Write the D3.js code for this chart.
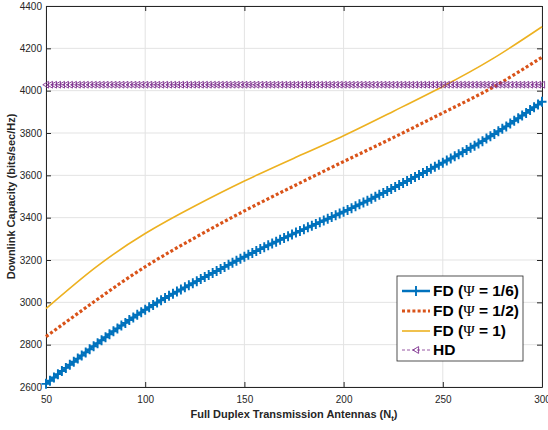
<!DOCTYPE html>
<html>
<head>
<meta charset="utf-8">
<script src="https://cdn.jsdelivr.net/npm/d3@7"></script>
<style>
  html, body { margin: 0; padding: 0; background: #fff; }
  svg { display: block; }
  text { font-family: "Liberation Sans", Arial, Helvetica, sans-serif; }
</style>
</head>
<body>
<svg id="chart" width="548" height="430"></svg>
<script>
// ---- data ----
const antennas = [50, 75, 100, 125, 150, 175, 200, 225, 250, 275, 300];
const fdPsi16 = [2615, 2800, 2965, 3095, 3215, 3325, 3428, 3540, 3660, 3790, 3948];
const fdPsi12 = [2838, 3008, 3168, 3305, 3432, 3550, 3665, 3778, 3895, 4015, 4158];
const fdPsi1  = [2970, 3165, 3325, 3455, 3573, 3681, 3787, 3902, 4020, 4150, 4302];
const hdCap   = [4028, 4028, 4028, 4028, 4028, 4028, 4028, 4028, 4028, 4028, 4028];
const markerStep = 2; // markers every 2 antennas
const xTickValues = [50, 100, 150, 200, 250, 300];
const yTickValues = [2600, 2800, 3000, 3200, 3400, 3600, 3800, 4000, 4200, 4400];
const legendLabels = [["FD (", "Ψ", " = 1/6)"], ["FD (", "Ψ", " = 1/2)"], ["FD (", "Ψ", " = 1)"], ["HD", "", ""]];

// ---- layout ----
const L = 46, R = 542, T = 6, B = 387;
const svg = d3.select("#chart");
const x = d3.scaleLinear().domain([50, 300]).range([L, R]);
const y = d3.scaleLinear().domain([2600, 4400]).range([B, T]);
const axisColor = "#262626";

// grid
const grid = svg.append("g");
grid.selectAll("line.gx").data(xTickValues).join("line")
  .attr("x1", d => x(d)).attr("x2", d => x(d)).attr("y1", T).attr("y2", B)
  .attr("stroke", "#e3e3e3").attr("stroke-width", 1);
grid.selectAll("line.gy").data(yTickValues).join("line")
  .attr("x1", L).attr("x2", R).attr("y1", d => y(d)).attr("y2", d => y(d))
  .attr("stroke", "#e3e3e3").attr("stroke-width", 1);

// axes (inward ticks, box)
const fmt = d3.format("d");
const axB = svg.append("g").attr("transform", `translate(0,${B})`)
  .call(d3.axisBottom(x).tickValues(xTickValues).tickFormat(fmt).tickSizeInner(-5).tickSizeOuter(0).tickPadding(9));
const axL = svg.append("g").attr("transform", `translate(${L},0)`)
  .call(d3.axisLeft(y).tickValues(yTickValues).tickFormat(fmt).tickSizeInner(-5).tickSizeOuter(0).tickPadding(4));
const axT = svg.append("g").attr("transform", `translate(0,${T})`)
  .call(d3.axisTop(x).tickValues(xTickValues).tickFormat("").tickSizeInner(-5).tickSizeOuter(0));
const axR = svg.append("g").attr("transform", `translate(${R},0)`)
  .call(d3.axisRight(y).tickValues(yTickValues).tickFormat("").tickSizeInner(-5).tickSizeOuter(0));
[axB, axL, axT, axR].forEach(g => {
  g.select(".domain").attr("stroke", axisColor).attr("stroke-width", 1);
  g.selectAll(".tick line").attr("stroke", axisColor);
  g.selectAll(".tick text").attr("fill", axisColor).attr("font-size", 10)
    .attr("font-family", "'Liberation Sans', Arial, sans-serif");
});

// axis labels
svg.append("text").attr("x", (L + R) / 2).attr("y", 418).attr("text-anchor", "middle")
  .attr("font-size", 11).attr("font-weight", "bold").attr("fill", axisColor)
  .text("Full Duplex Transmission Antennas (N")
  .append("tspan").attr("font-size", 8).attr("dy", 3).text("t")
  .select(function () { return this.parentNode; })
  .append("tspan").attr("dy", -3).text(")");
svg.append("text").attr("transform", `translate(15,${(T + B) / 2}) rotate(-90)`)
  .attr("text-anchor", "middle").attr("font-size", 11).attr("font-weight", "bold").attr("fill", axisColor)
  .text("Downlink Capacity (bits/sec/Hz)");

// ---- series ----
const series = [
  { vals: fdPsi16, color: "#0072BD", width: 2.5, dash: null, marker: "plus" },
  { vals: fdPsi12, color: "#D95319", width: 3.2, dash: "3,2.2", marker: null },
  { vals: fdPsi1,  color: "#EDB120", width: 1.6, dash: null, marker: null },
  { vals: hdCap,   color: "#7E2F8E", width: 0.8, dash: "3,2", marker: "tri" }
];

const line = d3.line().x(d => x(d[0])).y(d => y(d[1])).curve(d3.curveNatural);
const markerXs = d3.range(antennas[0], antennas[antennas.length - 1] + 0.001, markerStep);

function drawMarker(g, kind, px, py, color) {
  if (kind === "plus") {
    g.append("path").attr("d", `M${px - 4.5},${py}H${px + 4.5}M${px},${py - 5}V${py + 5}`)
      .attr("stroke", color).attr("stroke-width", 1.9).attr("fill", "none");
  } else if (kind === "tri") {
    g.append("path").attr("d", `M${px - 3.2},${py}L${px + 2.6},${py - 3.4}L${px + 2.6},${py + 3.4}Z`)
      .attr("stroke", color).attr("stroke-width", 0.9).attr("fill", "none");
  }
}

series.forEach(s => {
  const pts = antennas.map((a, i) => [a, s.vals[i]]);
  const g = svg.append("g");
  const p = g.append("path").attr("d", line(pts)).attr("fill", "none")
    .attr("stroke", s.color).attr("stroke-width", s.width)
    .attr("stroke-dasharray", s.dash);
  if (s.marker) {
    const node = p.node();
    const len = node.getTotalLength();
    const samples = [];
    for (let l = 0; l <= len; l += 0.5) { const q = node.getPointAtLength(l); samples.push([q.x, q.y]); }
    const bis = d3.bisector(d => d[0]).center;
    markerXs.forEach(mx => {
      const px = x(mx);
      const q = samples[bis(samples, px)];
      drawMarker(g, s.marker, px, q[1], s.color);
    });
  }
});

// ---- legend ----
const lg = svg.append("g");
const lx = 397, ly = 276, lw = 126, lh = 85;
lg.append("rect").attr("x", lx).attr("y", ly).attr("width", lw).attr("height", lh)
  .attr("fill", "#fff").attr("stroke", axisColor).attr("stroke-width", 0.8);
const rowY = [291, 311, 331, 350];
series.forEach((s, i) => {
  const yy = rowY[i];
  lg.append("line").attr("x1", lx + 5).attr("x2", lx + 33).attr("y1", yy).attr("y2", yy)
    .attr("stroke", s.color).attr("stroke-width", s.width).attr("stroke-dasharray", s.dash);
  if (s.marker) drawMarker(lg, s.marker, lx + 19, yy, s.color);
  const t = lg.append("text").attr("x", lx + 36).attr("y", yy + 5)
    .attr("font-size", 15.5).attr("font-weight", "bold").attr("fill", "#000");
  const parts = legendLabels[i];
  t.append("tspan").text(parts[0]);
  if (parts[1]) t.append("tspan").attr("font-weight", "normal").attr("font-family", "'Liberation Serif', 'DejaVu Serif', serif").text(parts[1]);
  if (parts[2]) t.append("tspan").text(parts[2]);
});
</script>
</body>
</html>
